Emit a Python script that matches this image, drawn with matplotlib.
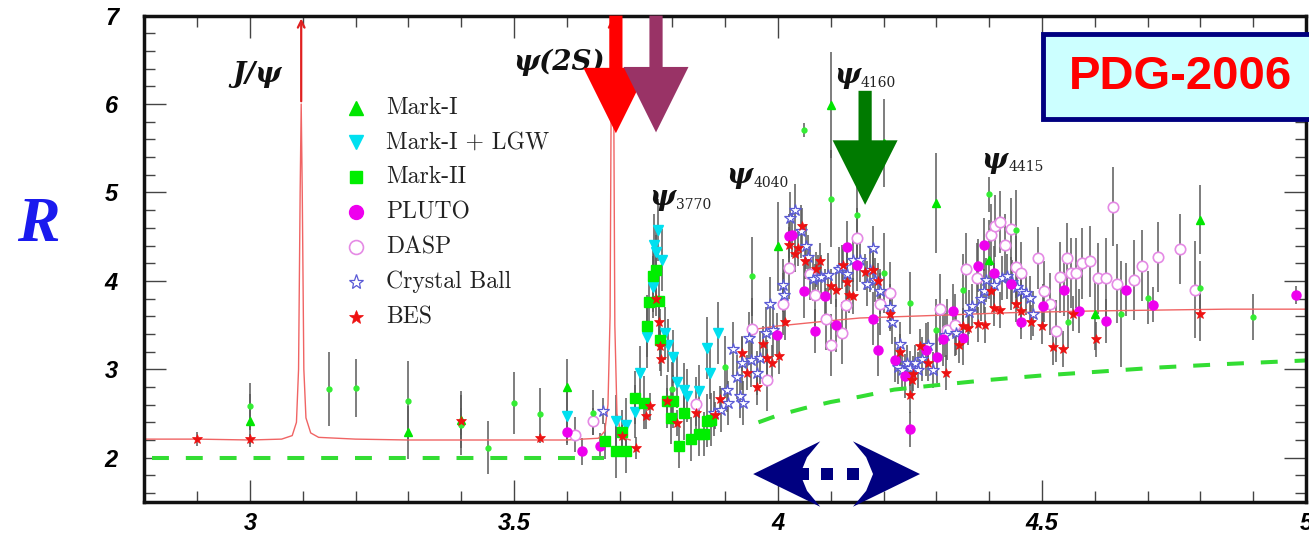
import numpy as np
import matplotlib
matplotlib.use('Agg')
import matplotlib.pyplot as plt
from matplotlib import patches
from matplotlib.ticker import MultipleLocator, FuncFormatter

# ---- data ----
# Mark-I (triangles)
mk1_e = [3.00, 3.30, 3.40, 3.60, 4.00, 4.10, 4.20, 4.30, 4.40, 4.60, 4.80]
mk1_r = [2.42, 2.29, 2.43, 2.80, 4.39, 5.99, 5.56, 4.88, 4.24, 3.62, 4.69]
mk1_err = [0.30, 0.30, 0.32, 0.32, 0.50, 0.60, 0.50, 0.57, 0.45, 0.40, 0.39]

# small green points (no legend entry)
sm_e = [3.00, 3.15, 3.20, 3.30, 3.40, 3.45, 3.50, 3.55, 3.65, 3.80,
        3.90, 3.95, 4.05, 4.10, 4.15, 4.20, 4.25, 4.30, 4.35, 4.40,
        4.45, 4.55, 4.65, 4.70, 4.80, 4.90]
sm_r = [2.58, 2.78, 2.79, 2.64, 2.37, 2.11, 2.62, 2.49, 2.51, 2.78,
        3.03, 4.05, 5.71, 4.93, 4.75, 4.09, 3.75, 3.44, 3.90, 4.98,
        4.58, 3.54, 3.63, 3.81, 3.92, 3.59]
sm_err = [0.27, 0.42, 0.33, 0.45, 0.34, 0.30, 0.35, 0.30, 0.25, 0.30,
          0.35, 0.45, 0.08, 0.55, 0.40, 0.45, 0.35, 0.35, 0.40, 0.20,
          0.45, 0.30, 0.60, 0.30, 0.30, 0.26]

# Mark-I + LGW
lgw_e = [3.600, 3.693, 3.712, 3.729, 3.739, 3.751, 3.764, 3.765, 3.769, 3.772,
         3.781, 3.786, 3.791, 3.802, 3.809, 3.822, 3.828, 3.851, 3.865, 3.871,
         3.887]
lgw_r = [2.47, 2.41, 2.37, 2.52, 2.96, 3.37, 3.93, 4.41, 4.33, 4.58,
         4.24, 3.41, 3.27, 3.14, 2.86, 2.77, 2.70, 2.75, 3.24, 2.96,
         3.41]
lgw_err = [0.30, 0.30, 0.30, 0.30, 0.30, 0.35, 0.35, 0.35, 0.30, 0.35,
           0.35, 0.30, 0.30, 0.30, 0.30, 0.30, 0.30, 0.30, 0.35, 0.30,
           0.35]

# Mark-II
mk2_e = [3.672, 3.693, 3.704, 3.712, 3.729, 3.746, 3.751, 3.756, 3.764, 3.769,
         3.774, 3.777, 3.790, 3.798, 3.801, 3.813, 3.822, 3.836, 3.850, 3.860,
         3.866, 3.873]
mk2_r = [2.19, 2.07, 2.29, 2.08, 2.68, 2.62, 3.49, 3.76, 4.05, 4.12,
         3.77, 3.33, 2.64, 2.45, 2.64, 2.13, 2.50, 2.21, 2.27, 2.27,
         2.42, 2.43]
mk2_err = [0.20, 0.30, 0.25, 0.25, 0.30, 0.30, 0.35, 0.35, 0.40, 0.40,
           0.40, 0.35, 0.30, 0.30, 0.30, 0.25, 0.30, 0.25, 0.25, 0.25,
           0.30, 0.30]

# PLUTO
pl_e = [3.600, 3.628, 3.662, 3.999, 4.020, 4.027, 4.049, 4.071, 4.089, 4.110,
        4.130, 4.150, 4.180, 4.190, 4.222, 4.241, 4.250, 4.280, 4.301, 4.312,
        4.331, 4.351, 4.379, 4.390, 4.409, 4.441, 4.461, 4.501, 4.541, 4.571,
        4.621, 4.660, 4.711, 4.981]
pl_r = [2.29, 2.07, 2.13, 3.39, 4.51, 4.52, 3.88, 3.43, 3.83, 3.50,
        4.38, 4.18, 3.57, 3.22, 3.11, 2.92, 2.32, 3.22, 3.14, 3.34,
        3.66, 3.35, 4.17, 4.41, 4.09, 3.97, 3.54, 3.72, 3.90, 3.66,
        3.55, 3.90, 3.73, 3.84]
pl_err = [0.15, 0.15, 0.15, 0.25, 0.25, 0.25, 0.30, 0.25, 0.30, 0.30,
          0.30, 0.30, 0.30, 0.30, 0.25, 0.25, 0.20, 0.30, 0.30, 0.30,
          0.30, 0.30, 0.30, 0.30, 0.30, 0.30, 0.20, 0.25, 0.30, 0.25,
          0.25, 0.30, 0.20, 0.10]

# DASP
da_e = [3.616, 3.650, 3.845, 3.951, 3.979, 4.009, 4.020, 4.061, 4.070, 4.091,
        4.101, 4.121, 4.129, 4.149, 4.193, 4.213, 4.306, 4.320, 4.335, 4.356,
        4.376, 4.404, 4.411, 4.420, 4.430, 4.441, 4.451, 4.461, 4.493, 4.504,
        4.516, 4.526, 4.535, 4.547, 4.555, 4.564, 4.575, 4.591, 4.607, 4.622,
        4.635, 4.643, 4.675, 4.690, 4.720, 4.761, 4.790]
da_r = [2.26, 2.41, 2.61, 3.46, 2.88, 3.74, 4.15, 4.08, 3.84, 3.57,
        3.27, 3.41, 3.73, 4.48, 3.74, 3.86, 3.68, 3.45, 3.50, 4.14,
        4.03, 4.52, 4.62, 4.67, 4.41, 4.59, 4.16, 4.09, 4.26, 3.88,
        3.74, 3.43, 4.04, 4.26, 4.09, 4.09, 4.20, 4.22, 4.03, 4.03,
        4.84, 3.97, 4.01, 4.17, 4.27, 4.36, 3.90]
da_err = [0.20, 0.15, 0.30, 0.35, 0.35, 0.35, 0.35, 0.30, 0.35, 0.35,
          0.35, 0.35, 0.35, 0.35, 0.35, 0.35, 0.40, 0.35, 0.35, 0.40,
          0.40, 0.35, 0.35, 0.35, 0.35, 0.35, 0.35, 0.35, 0.35, 0.35,
          0.35, 0.35, 0.40, 0.40, 0.40, 0.40, 0.40, 0.40, 0.40, 0.45,
          0.45, 0.45, 0.45, 0.40, 0.40, 0.40, 0.55]

# Crystal Ball
cb_e = [3.669, 3.879, 3.892, 3.903, 3.905, 3.914, 3.922, 3.928, 3.932, 3.934,
        3.946, 3.949, 3.961, 3.966, 3.977, 3.985, 3.990, 4.009, 4.012, 4.022,
        4.032, 4.044, 4.053, 4.056, 4.066, 4.075, 4.082, 4.095, 4.115, 4.121,
        4.131, 4.143, 4.155, 4.168, 4.174, 4.180, 4.184, 4.193, 4.212, 4.215,
        4.228, 4.231, 4.234, 4.244, 4.250, 4.259, 4.266, 4.272, 4.284, 4.294,
        4.316, 4.338, 4.362, 4.368, 4.384, 4.390, 4.394, 4.410, 4.424, 4.434,
        4.443, 4.452, 4.461, 4.470, 4.477, 4.483]
cb_r = [2.53, 2.50, 2.54, 2.77, 2.62, 3.23, 2.91, 2.70, 3.07, 2.62,
        3.35, 3.10, 2.96, 3.13, 3.41, 3.74, 3.44, 3.95, 3.84, 4.71,
        4.80, 4.56, 4.39, 4.27, 4.02, 4.04, 4.04, 4.07, 4.13, 4.16,
        4.08, 4.24, 4.24, 3.97, 4.12, 4.37, 4.01, 3.88, 3.71, 3.54,
        3.03, 3.29, 2.99, 3.07, 3.01, 3.07, 2.99, 3.12, 3.28, 2.99,
        3.39, 3.41, 3.65, 3.72, 3.80, 3.88, 4.01, 3.95, 4.03, 4.05,
        3.99, 3.93, 3.88, 3.86, 3.81, 3.63]
cb_err = [0.15, 0.25, 0.25, 0.25, 0.25, 0.30, 0.25, 0.25, 0.30, 0.25,
          0.30, 0.30, 0.25, 0.30, 0.30, 0.30, 0.30, 0.30, 0.30, 0.30,
          0.30, 0.30, 0.25, 0.25, 0.25, 0.25, 0.25, 0.25, 0.25, 0.25,
          0.25, 0.25, 0.25, 0.25, 0.25, 0.25, 0.25, 0.25, 0.25, 0.25,
          0.20, 0.25, 0.20, 0.20, 0.20, 0.20, 0.20, 0.25, 0.25, 0.20,
          0.25, 0.25, 0.25, 0.25, 0.25, 0.25, 0.25, 0.25, 0.25, 0.25,
          0.25, 0.25, 0.25, 0.25, 0.25, 0.25]

# BES
bes_e = [2.900, 3.000, 3.400, 3.549, 3.704, 3.732, 3.750, 3.757, 3.769, 3.774,
         3.777, 3.778, 3.790, 3.809, 3.845, 3.880, 3.890, 3.931, 3.942, 3.960,
         3.971, 3.979, 3.989, 4.002, 4.013, 4.020, 4.032, 4.038, 4.045, 4.051,
         4.072, 4.080, 4.100, 4.110, 4.124, 4.130, 4.135, 4.143, 4.165, 4.180,
         4.190, 4.212, 4.231, 4.250, 4.253, 4.256, 4.269, 4.284, 4.319, 4.342,
         4.351, 4.359, 4.379, 4.392, 4.404, 4.409, 4.420, 4.451, 4.461, 4.480,
         4.500, 4.520, 4.540, 4.559, 4.602, 4.800]
bes_r = [2.21, 2.21, 2.41, 2.22, 2.25, 2.11, 2.47, 2.58, 3.80, 3.53,
         3.26, 3.12, 2.64, 2.39, 2.51, 2.48, 2.66, 3.18, 2.96, 2.80,
         3.29, 3.13, 3.07, 3.15, 3.53, 4.41, 4.30, 4.37, 4.62, 4.22,
         4.13, 4.23, 3.94, 3.90, 4.18, 3.99, 3.84, 3.83, 4.10, 4.12,
         4.00, 3.63, 3.20, 2.71, 2.88, 2.95, 3.26, 3.07, 2.96, 3.27,
         3.49, 3.47, 3.51, 3.50, 3.89, 3.69, 3.67, 3.74, 3.66, 3.53,
         3.49, 3.25, 3.23, 3.63, 3.34, 3.62]
bes_err = [0.08, 0.06, 0.15, 0.05, 0.12, 0.12, 0.15, 0.15, 0.20, 0.20,
           0.20, 0.20, 0.15, 0.15, 0.15, 0.15, 0.15, 0.20, 0.20, 0.20,
           0.20, 0.20, 0.20, 0.20, 0.20, 0.20, 0.20, 0.20, 0.20, 0.20,
           0.20, 0.20, 0.20, 0.20, 0.20, 0.20, 0.20, 0.20, 0.20, 0.20,
           0.20, 0.20, 0.20, 0.20, 0.20, 0.20, 0.20, 0.20, 0.20, 0.20,
           0.20, 0.20, 0.20, 0.20, 0.20, 0.20, 0.20, 0.20, 0.20, 0.20,
           0.20, 0.20, 0.20, 0.20, 0.20, 0.30]

# red curve (resonances + continuum), two pieces
red_lo_e = [2.80, 2.90, 3.00, 3.06, 3.080, 3.088, 3.092, 3.0950, 3.0970, 3.0990,
            3.1020, 3.106, 3.115, 3.13, 3.20, 3.30, 3.40, 3.50, 3.60, 3.660,
            3.672, 3.678, 3.682, 3.6850, 3.6865, 3.6880, 3.691, 3.695, 3.702,
            3.710, 3.720]
red_lo_r = [2.21, 2.21, 2.20, 2.21, 2.25, 2.40, 3.00, 5.00, 6.00, 5.00,
            3.00, 2.45, 2.28, 2.23, 2.21, 2.20, 2.20, 2.20, 2.20, 2.22,
            2.30, 2.60, 3.60, 7.20, 7.20, 7.20, 3.50, 2.50, 2.28,
            2.22, 2.20]
red_hi_e = [3.953, 4.00, 4.10, 4.155, 4.30, 4.44, 4.60, 4.723, 4.85, 5.00]
red_hi_r = [3.45, 3.49, 3.55, 3.58, 3.61, 3.64, 3.66, 3.67, 3.68, 3.68]

# green dashed curve, two pieces
grn_lo_e = [2.815, 3.670]
grn_lo_r = [2.00, 2.00]
grn_hi_e = [3.963, 4.00, 4.05, 4.10, 4.155, 4.22, 4.30, 4.40, 4.50, 4.60, 4.72, 4.85, 5.00]
grn_hi_r = [2.40, 2.48, 2.56, 2.63, 2.69, 2.77, 2.82, 2.88, 2.93, 2.97, 3.02, 3.06, 3.10]

legend_labels = ['Mark-I', 'Mark-I + LGW', 'Mark-II', 'PLUTO', 'DASP', 'Crystal Ball', 'BES']

plt.rcParams['font.family'] = 'Liberation Sans'
plt.rcParams['font.weight'] = 'bold'
plt.rcParams['font.style'] = 'italic'

fig = plt.figure(figsize=(13.09, 5.35), dpi=100)
ax = fig.add_axes([0.1103, 0.0619, 0.8874, 0.9088])
ax.set_xlim(2.8, 5.0)
ax.set_ylim(1.5, 7.0)

# theory curves
ax.plot(red_lo_e, red_lo_r, color='#f06464', lw=1.0, zorder=2.5)
ax.plot(red_hi_e, red_hi_r, color='#f06464', lw=1.0, zorder=2.5)
ax.plot(grn_lo_e, grn_lo_r, color='#33dd33', lw=2.9, dashes=(4.2, 4.2), zorder=2.5)
ax.plot(grn_hi_e, grn_hi_r, color='#33dd33', lw=2.9, dashes=(4.2, 4.2), zorder=2.5)
for xr in (3.097, 3.686):
    ax.annotate('', xy=(xr, 7.0), xytext=(xr, 6.0), annotation_clip=False,
                arrowprops=dict(arrowstyle='->', color='#e02020', lw=1.6, mutation_scale=12))

# data sets: (x, R, err, marker, size, face, edge, mew)
series = [
    (da_e, da_r, da_err, 'o', 7.5, 'white', '#e58ae5', 1.2),
    (cb_e, cb_r, cb_err, '*', 9.0, 'white', '#5a5ad6', 0.9),
    (pl_e, pl_r, pl_err, 'o', 6.5, '#ee00ee', '#ee00ee', 1.0),
    (lgw_e, lgw_r, lgw_err, 'v', 6.5, '#00e0f0', '#00e0f0', 1.0),
    (mk2_e, mk2_r, mk2_err, 's', 6.5, '#00ee00', '#00ee00', 1.0),
    (mk1_e, mk1_r, mk1_err, '^', 6.0, '#00e600', '#00e600', 1.0),
    (sm_e, sm_r, sm_err, 'o', 3.5, '#33ee33', '#33ee33', 1.0),
    (bes_e, bes_r, bes_err, '*', 7.0, '#ee1111', '#ee1111', 0.5),
]
for xs, rs, es, m, ms, fc, ec, mew in series:
    ax.errorbar(xs, rs, yerr=es, fmt='none', ecolor='#5a5a5a', elinewidth=1.1, zorder=2)
for xs, rs, es, m, ms, fc, ec, mew in series:
    ax.plot(xs, rs, ls='none', marker=m, ms=ms, mfc=fc, mec=ec, mew=mew, zorder=3)

# legend drawn by hand
leg_y = [0.810, 0.740, 0.668, 0.596, 0.524, 0.452, 0.380]
leg_style = [('^', 10, '#00e600', '#00e600', 1.0), ('v', 10, '#00e0f0', '#00e0f0', 1.0),
             ('s', 9, '#00ee00', '#00ee00', 1.0), ('o', 10, '#ee00ee', '#ee00ee', 1.0),
             ('o', 10, 'white', '#e58ae5', 1.2), ('*', 11, 'white', '#5a5ad6', 0.9),
             ('*', 10, '#ee1111', '#ee1111', 0.5)]
for yy, lab, (m, ms, fc, ec, mew) in zip(leg_y, legend_labels, leg_style):
    ax.plot([0.182], [yy], transform=ax.transAxes, marker=m, ms=ms, mfc=fc, mec=ec,
            mew=mew, ls='none', clip_on=False, zorder=4)
    ax.text(0.208, yy, lab, transform=ax.transAxes, family='cmr10', style='normal',
            weight='normal', size=17, color='#222222', va='center', ha='left')

# resonance labels
lab_font = dict(family='DejaVu Serif', weight='bold', style='italic', size=20, color='#111111')
sub_font = dict(family='DejaVu Serif', weight='normal', style='normal', size=10, color='#222222')
ax.text(3.013, 6.25, 'J/ψ', ha='center', va='baseline', **lab_font)
ax.text(3.586, 6.38, 'ψ(2S)', ha='center', va='baseline', **lab_font)
for xp, yp, sub in [(3.756, 4.86, '3770'), (3.903, 5.11, '4040'),
                    (4.106, 6.24, '4160'), (4.386, 5.28, '4415')]:
    t = ax.text(xp, yp, 'ψ', ha='left', va='baseline', **lab_font)
    ax.annotate(sub, xy=(1.0, 0.16), xycoords=t, xytext=(0.5, -1.5),
                textcoords='offset points', ha='left', va='baseline', **sub_font)

# big highlight arrows
for xa, y0, ytip, yhead, col in [(3.693, 7.0, 5.67, 6.41, '#ff0000'),
                                 (3.769, 7.0, 5.68, 6.42, '#993366'),
                                 (4.165, 6.15, 4.86, 5.59, '#007a00')]:
    arr = patches.FancyArrow(xa, y0, 0, ytip - y0, width=0.025, head_width=0.123,
                             head_length=yhead - ytip, length_includes_head=True,
                             color=col, lw=0, zorder=6, clip_on=False)
    ax.add_patch(arr)

# navy double arrow with dots
navy = '#000080'
yc, hh = 1.815, 0.37
left_head = [(3.953, yc), (4.080, yc + hh), (4.055, yc + 0.19), (4.042, yc),
             (4.055, yc - 0.19), (4.080, yc - hh)]
right_head = [(4.269, yc), (4.142, yc + hh), (4.167, yc + 0.19), (4.180, yc),
              (4.167, yc - 0.19), (4.142, yc - hh)]
for pts in (left_head, right_head):
    ax.add_patch(patches.Polygon(pts, closed=True, fc=navy, ec='none', zorder=6, clip_on=False))
for xq in (4.047, 4.093, 4.142):
    ax.add_patch(patches.Rectangle((xq - 0.0115, yc - 0.07), 0.023, 0.14, fc=navy, ec='none',
                                   zorder=6, clip_on=False))

# axes styling
ax.xaxis.set_major_locator(MultipleLocator(0.5))
ax.xaxis.set_minor_locator(MultipleLocator(0.1))
ax.yaxis.set_major_locator(MultipleLocator(1))
ax.yaxis.set_minor_locator(MultipleLocator(0.2))
ax.xaxis.set_major_formatter(FuncFormatter(lambda v, p: '%g' % v))
ax.yaxis.set_major_formatter(FuncFormatter(lambda v, p: '%g' % v))
ax.tick_params(which='both', direction='in', top=True, right=True, color='#444444', width=1.0)
ax.tick_params(which='major', length=16)
ax.tick_params(which='minor', length=8)
ax.tick_params(axis='y', which='major', pad=19, labelsize=17)
ax.tick_params(axis='x', which='major', pad=7, labelsize=17)
for s in ax.spines.values():
    s.set_linewidth(2.5)
    s.set_color('#111111')

fig.text(38 / 1309, 1 - 226 / 535, 'R', family='Liberation Serif', weight='bold', style='italic',
         size=46, color='#1a1aee', ha='center', va='center')

# PDG-2006 box
box = patches.Rectangle((1043 / 1309, 1 - 119 / 535), 0.25, 85 / 535, transform=fig.transFigure,
                        fc='#ccffff', ec='#000080', lw=3.5, zorder=10)
fig.add_artist(box)
fig.text(1180 / 1309, 1 - 77 / 535, 'PDG-2006', family='Liberation Sans', weight='bold',
         style='normal', size=34, color='#ff0000', ha='center', va='center', zorder=11)

fig.savefig('out.png', dpi=100)
